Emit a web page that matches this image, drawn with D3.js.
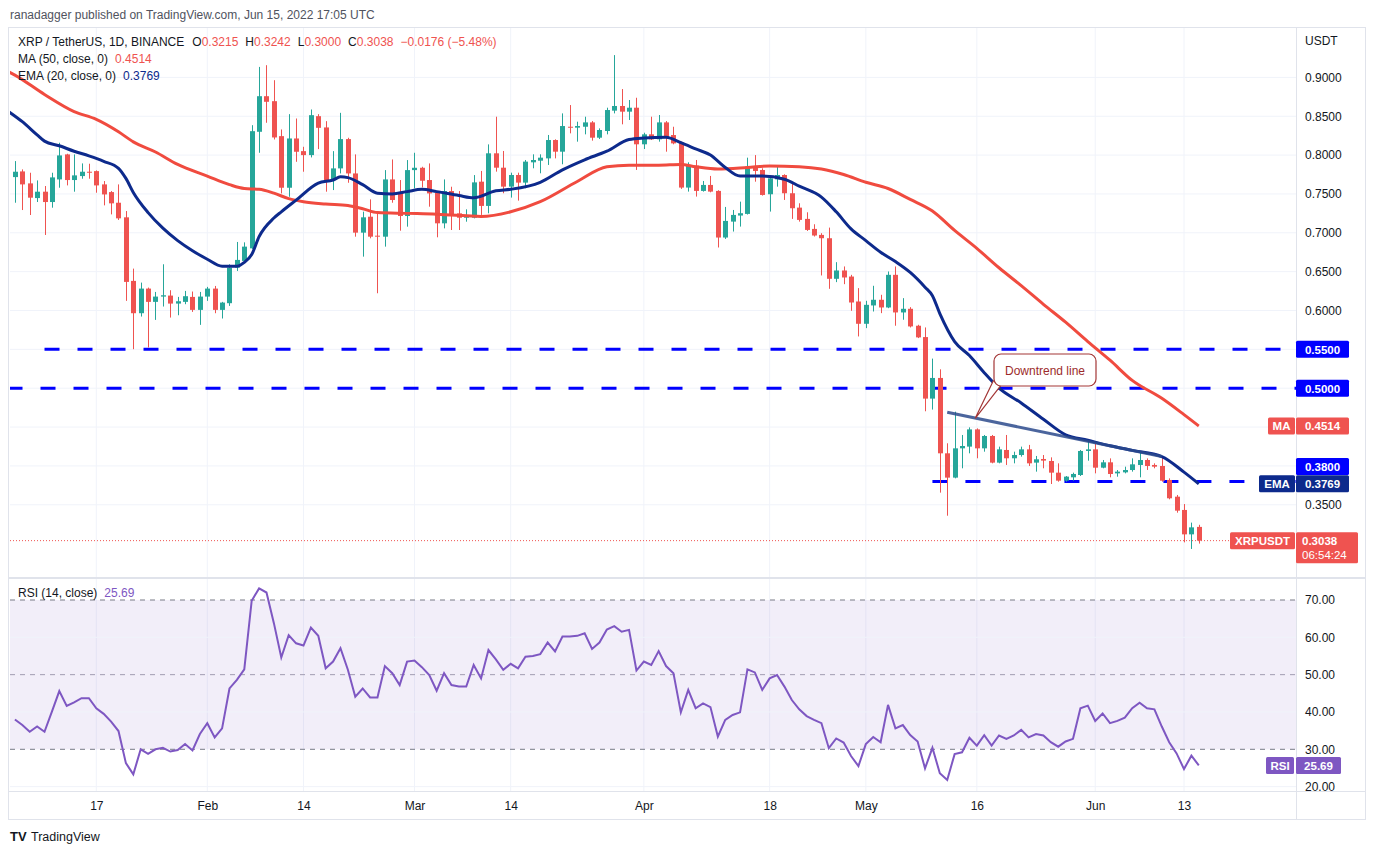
<!DOCTYPE html>
<html>
<head>
<meta charset="utf-8">
<script src="https://cdn.jsdelivr.net/npm/d3@7"></script>
<style>
body { margin: 0; background: #fff; }
svg text { font-family: "Liberation Sans", Arial, sans-serif; }
</style>
</head>
<body>
<div id="chart"></div>
<script>
// Daily candles, Jan 6 .. Jun 15 2022
var firstDay = "2022-01-06"
var lastDay = "2022-06-15"

var open = [.7717,.7790,.7636,.7447,.7529,.7396,.7687,.8009,.7679,.7730,.7786,
.7794,.7623,.7524,.7387,.7199,.6381,.5965,.6282,.6111,.6179,
.6192,.6089,.6111,.6175,.6008,.6179,.6282,.6008,.6094,.6552,
.6638,.6800,.8300,.8758,.8694,.8244,.7580,.8214,.8051,.8000,
.8501,.8356,.7679,.7829,.8206,.7764,.7002,.7207,.6963,.6950,
.7687,.7507,.7216,.7807,.7837,.7679,.7516,.7122,.7537,.7250,
.7194,.7194,.7658,.7346,.8023,.7838,.7594,.7744,.7646,.7907,
.7928,.7958,.8194,.8044,.8365,.8353,.8365,.8421,.8224,.8310,
.8572,.8632,.8559,.8610,.8139,.8267,.8203,.8421,.8258,.8160,
.7582,.7865,.7539,.7616,.7539,.6939,.7144,.7222,.7243,.7851,
.7808,.7496,.7688,.7744,.7509,.7324,.7179,.7050,.6973,.6930,
.6408,.6515,.6437,.6116,.5829,.6065,.6138,.6039,.6459,.5975,
.6022,.5804,.5658,.4866,.5132,.4162,.3849,.4226,.4248,.4470,
.4226,.4385,.4042,.4205,.4098,.4140,.4213,.4042,.4089,.4063,
.3913,.3810,.3853,.3883,.4192,.4213,.3977,.4046,.3904,.3917,
.3947,.4012,.4076,.4012,.3999,.3819,.3604,.3433,.3119,.3215]

var high = [.7923,.7816,.7773,.7674,.7602,.7773,.8159,.8017,.8009,.7893,.7889,
.7803,.7666,.7537,.7623,.7280,.6539,.6359,.6295,.6239,.6595,
.6261,.6175,.6252,.6244,.6239,.6304,.6316,.6111,.6595,.6882,
.6877,.8385,.9135,.9157,.8964,.8330,.8527,.8471,.8107,.8587,
.8527,.8437,.8051,.8544,.8223,.8009,.7272,.7430,.7250,.7807,
.7944,.7679,.7936,.8030,.7850,.7893,.7529,.7687,.7593,.7537,
.7302,.7743,.7796,.8138,.8494,.8053,.7774,.7774,.7937,.8010,
.8010,.8259,.8203,.8537,.8644,.8430,.8494,.8438,.8344,.8610,
.9287,.8850,.8709,.8738,.8288,.8494,.8516,.8438,.8365,.8173,
.7907,.7937,.7667,.7732,.7548,.7333,.7294,.7401,.7967,.8000,
.7830,.7722,.7864,.7753,.7637,.7380,.7264,.7110,.6995,.7067,
.6622,.6567,.6459,.6288,.6125,.6318,.6202,.6502,.6567,.6159,
.6043,.5816,.5782,.5381,.5243,.4291,.4698,.4398,.4496,.4483,
.4398,.4398,.4248,.4398,.4183,.4248,.4270,.4128,.4140,.4110,
.4033,.3870,.3913,.4205,.4346,.4290,.4076,.4097,.3947,.3990,
.4097,.4183,.4097,.4033,.4119,.3840,.3626,.3509,.3270,.3242]

var low = [.7387,.7293,.7229,.7396,.6972,.7323,.7580,.7610,.7529,.7696,.7696,
.7516,.7353,.7237,.7165,.6124,.5502,.5922,.5524,.5879,.6051,
.5909,.5939,.6081,.5982,.5815,.6124,.5965,.5897,.6059,.6509,
.6629,.6792,.8030,.8416,.8201,.7507,.7464,.7914,.7786,.7970,
.8077,.7529,.7550,.7764,.7644,.6950,.6693,.6929,.6222,.6822,
.7387,.7027,.7079,.7572,.7584,.7336,.6942,.7057,.7036,.7036,
.7143,.7186,.7230,.7251,.7787,.7509,.7453,.7414,.7573,.7830,
.7766,.7873,.7958,.7882,.8280,.8173,.8267,.8186,.8207,.8267,
.8537,.8396,.8452,.7809,.8078,.8194,.8173,.8044,.8139,.7565,
.7530,.7466,.7530,.7521,.6811,.6921,.7016,.7080,.7235,.7658,
.7479,.7273,.7594,.7423,.7179,.7144,.7024,.6952,.6451,.6279,
.6365,.6339,.5996,.5666,.5773,.5987,.5966,.6030,.5804,.5881,
.5782,.5645,.4703,.4725,.3656,.3359,.3840,.3969,.4162,.4098,
.4183,.4033,.4033,.4012,.4033,.4119,.3999,.3926,.3969,.3767,
.3797,.3797,.3810,.3870,.4067,.3904,.3969,.3853,.3861,.3904,
.3926,.3853,.3948,.3969,.3797,.3570,.3398,.3016,.2931,.3000]

var close = [.7786,.7623,.7452,.7529,.7396,.7713,.7996,.7679,.7739,.7786,.7773,
.7610,.7494,.7379,.7186,.6368,.5965,.6282,.6111,.6179,.6196,
.6089,.6119,.6184,.6008,.6179,.6282,.6008,.6102,.6552,.6651,
.6822,.8308,.8758,.8686,.8227,.7580,.8214,.8043,.8000,.8514,
.8351,.7679,.7829,.8206,.7764,.7002,.7199,.6950,.6950,.7687,
.7422,.7216,.7807,.7837,.7670,.7507,.7122,.7537,.7220,.7194,
.7216,.7649,.7346,.8023,.7838,.7594,.7744,.7646,.7916,.7937,
.7967,.8194,.8044,.8374,.8353,.8374,.8421,.8224,.8323,.8580,
.8632,.8559,.8610,.8139,.8267,.8203,.8421,.8237,.8151,.7582,
.7865,.7539,.7616,.7530,.6939,.7153,.7230,.7252,.7851,.7796,
.7487,.7701,.7744,.7509,.7316,.7166,.7037,.6965,.6930,.6408,
.6515,.6425,.6103,.5829,.6073,.6138,.6039,.6459,.5975,.6022,
.5795,.5654,.4866,.5132,.4162,.3849,.4226,.4256,.4470,.4226,
.4385,.4042,.4213,.4098,.4140,.4213,.4033,.4085,.4068,.3913,
.3810,.3862,.3896,.4192,.4213,.3977,.4046,.3896,.3926,.3947,
.4020,.4076,.3999,.3990,.3810,.3583,.3424,.3119,.3209,.3038]

// RSI (14, close), one value per candle
var rsi = [38.0,36.5,34.7,36.1,34.7,40.1,45.6,41.6,42.6,43.7,43.7,
41.0,39.5,37.4,34.9,26.3,23.3,30.0,28.8,30.0,30.4,
29.4,29.8,31.4,29.7,34.1,37.0,33.2,35.6,46.3,48.6,
51.4,69.8,73.1,72.0,63.8,54.6,60.6,58.4,57.8,62.6,
60.4,51.7,53.5,57.1,51.3,44.1,46.3,43.9,43.9,52.3,
50.4,47.2,53.5,53.8,52.0,49.9,45.7,50.4,47.2,46.8,
46.8,52.6,49.0,56.6,54.1,51.3,52.9,51.7,54.8,55.0,
55.5,58.6,56.2,60.2,60.2,60.4,61.1,56.9,58.6,62.1,
63.0,61.5,62.0,51.1,53.5,52.6,56.3,52.3,50.4,39.9,
45.9,41.0,42.3,41.3,33.4,37.9,39.2,39.9,51.4,50.6,
45.9,49.0,49.9,46.8,43.2,40.7,38.9,37.9,37.0,30.3,
32.9,31.8,28.2,25.5,31.4,33.3,31.9,41.9,35.6,36.5,
33.8,32.1,24.9,30.4,23.6,21.8,28.7,29.2,33.1,31.0,
33.8,31.0,33.7,32.8,33.7,35.2,33.2,34.1,33.7,31.9,
30.7,32.1,32.8,41.0,41.7,37.6,39.6,37.0,37.6,38.5,
41.0,42.5,41.0,40.7,36.1,31.9,28.9,24.7,28.3,25.69]

// MA 50 and EMA 20
var ma50 = [["2022-01-05",0.908],["2022-01-06",0.903],["2022-01-10",0.878],["2022-01-14",0.856],["2022-01-17",0.846],
["2022-01-20",0.830],["2022-01-22",0.817],["2022-01-25",0.804],["2022-01-28",0.788],["2022-02-01",0.773],
["2022-02-04",0.762],["2022-02-06",0.757],["2022-02-08",0.756],["2022-02-10",0.751],["2022-02-12",0.744],
["2022-02-14",0.740],["2022-02-17",0.737],["2022-02-20",0.735],["2022-02-22",0.731],["2022-02-24",0.726],
["2022-02-28",0.725],["2022-03-04",0.724],["2022-03-08",0.722],["2022-03-10",0.721],["2022-03-14",0.727],
["2022-03-18",0.740],["2022-03-23",0.766],["2022-03-27",0.785],["2022-03-30",0.787],["2022-04-03",0.787],
["2022-04-06",0.788],["2022-04-08",0.785],["2022-04-11",0.782],["2022-04-15",0.784],["2022-04-18",0.786],
["2022-04-22",0.785],["2022-04-25",0.782],["2022-04-28",0.775],["2022-05-01",0.765],["2022-05-04",0.757],
["2022-05-07",0.743],["2022-05-10",0.728],["2022-05-13",0.703],["2022-05-16",0.680],["2022-05-19",0.655],
["2022-05-22",0.632],["2022-05-25",0.608],["2022-05-28",0.585],["2022-05-31",0.560],["2022-06-03",0.536],
["2022-06-06",0.510],["2022-06-10",0.487],["2022-06-13",0.466],["2022-06-15",0.4514]]

var ema20 = [["2022-01-05",0.857],["2022-01-07",0.843],["2022-01-09",0.826],["2022-01-10",0.818],["2022-01-12",0.812],
["2022-01-14",0.805],["2022-01-16",0.799],["2022-01-18",0.792],["2022-01-20",0.783],["2022-01-21",0.770],
["2022-01-22",0.752],["2022-01-24",0.726],["2022-01-26",0.706],["2022-01-28",0.690],["2022-01-30",0.677],
["2022-02-01",0.666],["2022-02-03",0.657],["2022-02-05",0.657],["2022-02-06",0.662],["2022-02-07",0.672],
["2022-02-08",0.695],["2022-02-10",0.719],["2022-02-11",0.727],["2022-02-13",0.742],["2022-02-16",0.764],
["2022-02-18",0.768],["2022-02-19",0.772],["2022-02-20",0.771],["2022-02-22",0.762],["2022-02-24",0.751],
["2022-02-26",0.750],["2022-02-28",0.753],["2022-03-02",0.756],["2022-03-04",0.753],["2022-03-07",0.748],
["2022-03-09",0.745],["2022-03-12",0.754],["2022-03-14",0.756],["2022-03-18",0.765],["2022-03-21",0.781],
["2022-03-24",0.794],["2022-03-27",0.805],["2022-03-30",0.820],["2022-04-01",0.822],["2022-04-04",0.823],
["2022-04-06",0.816],["2022-04-08",0.808],["2022-04-10",0.800],["2022-04-12",0.784],["2022-04-14",0.773],
["2022-04-17",0.773],["2022-04-20",0.769],["2022-04-22",0.760],["2022-04-25",0.746],["2022-04-27",0.727],
["2022-04-29",0.705],["2022-05-01",0.690],["2022-05-03",0.675],["2022-05-05",0.663],["2022-05-07",0.649],
["2022-05-09",0.630],["2022-05-10",0.619],["2022-05-11",0.596],["2022-05-13",0.560],["2022-05-15",0.542],
["2022-05-17",0.520],["2022-05-19",0.500],["2022-05-22",0.481],["2022-05-25",0.460],["2022-05-28",0.440],
["2022-05-31",0.433],["2022-06-03",0.426],["2022-06-06",0.420],["2022-06-10",0.412],["2022-06-13",0.392],
["2022-06-15",0.3769]]

// horizontal levels (value, first day drawn) and trend line
var levels = [[0.55,"2022-01-10"],[0.50,"2022-01-05"],[0.38,"2022-05-10"]]
var trendLine = [["2022-05-12",0.469],["2022-06-10",0.412]]

var priceTicks = [0.35,0.40,0.45,0.50,0.55,0.60,0.65,0.70,0.75,0.80,0.85,0.90]
var rsiTicks = [20,30,40,50,60,70]
var dateTicks = ["2022-01-17","2022-02-01","2022-02-14","2022-03-01","2022-03-14","2022-04-01",
"2022-04-18","2022-05-01","2022-05-16","2022-06-01","2022-06-13"]

var green = "#26a69a", red = "#ef5350", blue = "#0000ff", navy = "#0d2a8c", purple = "#7e57c2"
var textCol = "#131722", gridCol = "#f0f3fa", lineCol = "#e0e3eb"

var parse = d3.utcParse("%Y-%m-%d")
var days = d3.utcDay.range(parse(firstDay), d3.utcDay.offset(parse(lastDay), 1))
var candles = days.map(function(d, i){
  return {date: d, o: open[i], h: high[i], l: low[i], c: close[i], r: rsi[i]}
})

// layout
var left = 10, right = 1296
var priceTop = 28, priceBottom = 577
var rsiTop = 579, rsiBottom = 791

var x = d3.scaleUtc().domain([parse("2022-01-17"), parse("2022-06-13")]).range([96.3, 1184])
var y = d3.scaleLinear().domain([0.5, 0.9]).range([388.2, 77.4])
var yR = d3.scaleLinear().domain([30, 70]).range([749.3, 600])

var svg = d3.select("#chart").append("svg")
  .attr("width", 1373)
  .attr("height", 855)

var defs = svg.append("defs")
defs.append("clipPath").attr("id", "clipPrice").append("rect")
  .attr("x", left).attr("y", priceTop).attr("width", right - left).attr("height", priceBottom - priceTop)
defs.append("clipPath").attr("id", "clipRsi").append("rect")
  .attr("x", left).attr("y", rsiTop).attr("width", right - left).attr("height", rsiBottom - rsiTop)

// header
svg.append("text")
  .attr("x", 10).attr("y", 19)
  .attr("font-size", 12)
  .attr("fill", "#50535e")
  .text("ranadagger published on TradingView.com, Jun 15, 2022 17:05 UTC")

// frame
svg.append("rect")
  .attr("x", 8.5).attr("y", 27.5).attr("width", 1357).attr("height", 792)
  .attr("fill", "none").attr("stroke", lineCol)

// vertical grid
svg.append("g").selectAll("line")
  .data(dateTicks)
  .join("line")
  .attr("x1", function(d){ return x(parse(d)) })
  .attr("x2", function(d){ return x(parse(d)) })
  .attr("y1", priceTop).attr("y2", rsiBottom)
  .attr("stroke", gridCol)

// horizontal price grid
svg.append("g").selectAll("line")
  .data(priceTicks)
  .join("line")
  .attr("x1", left).attr("x2", right)
  .attr("y1", function(d){ return y(d) }).attr("y2", function(d){ return y(d) })
  .attr("stroke", gridCol)

//Price pane
var pricePane = svg.append("g").attr("clip-path", "url(#clipPrice)")

// current price dotted line
pricePane.append("line")
  .attr("x1", left).attr("x2", right)
  .attr("y1", y(close[close.length - 1])).attr("y2", y(close[close.length - 1]))
  .attr("stroke", red).attr("stroke-width", 1).attr("stroke-dasharray", "1,2")

// dashed levels
pricePane.append("g").selectAll("line")
  .data(levels)
  .join("line")
  .attr("x1", function(d){ return x(parse(d[1])) })
  .attr("x2", right)
  .attr("y1", function(d){ return y(d[0]) }).attr("y2", function(d){ return y(d[0]) })
  .attr("stroke", blue).attr("stroke-width", 3).attr("stroke-dasharray", "15,18")

// candles
var candle = pricePane.append("g").selectAll("g")
  .data(candles)
  .join("g")

candle.append("line")
  .attr("x1", function(d){ return Math.round(x(d.date)) + 0.5 })
  .attr("x2", function(d){ return Math.round(x(d.date)) + 0.5 })
  .attr("y1", function(d){ return y(d.h) })
  .attr("y2", function(d){ return y(d.l) })
  .attr("stroke", function(d){ return d.c >= d.o ? green : red })

candle.append("rect")
  .attr("x", function(d){ return Math.round(x(d.date)) - 2 })
  .attr("width", 5)
  .attr("y", function(d){ return y(Math.max(d.o, d.c)) })
  .attr("height", function(d){ return Math.max(1, Math.abs(y(d.o) - y(d.c))) })
  .attr("fill", function(d){ return d.c >= d.o ? green : red })

// moving averages
var avgLine = d3.line()
  .x(function(d){ return x(parse(d[0])) })
  .y(function(d){ return y(d[1]) })
  .curve(d3.curveMonotoneX)

pricePane.append("path")
  .datum(ma50)
  .attr("d", avgLine)
  .attr("fill", "none").attr("stroke", "#f04b3f").attr("stroke-width", 3)

pricePane.append("path")
  .datum(ema20)
  .attr("d", avgLine)
  .attr("fill", "none").attr("stroke", navy).attr("stroke-width", 3)

// downtrend line
pricePane.append("path")
  .datum(trendLine)
  .attr("d", d3.line().x(function(d){ return x(parse(d[0])) }).y(function(d){ return y(d[1]) }))
  .attr("fill", "none").attr("stroke", "#2b4a8c").attr("stroke-opacity", 0.85).attr("stroke-width", 3)

// callout
var tip = [x(parse(trendLine[0][0])) + 28, y(trendLine[0][1]) + 6]
svg.append("path")
  .attr("d", "M" + (tip[0] + 18) + "," + 381 + "L" + tip[0] + "," + tip[1] + "L" + (tip[0] + 29) + "," + 381 + "Z")
  .attr("fill", "#fff").attr("stroke", "#a33636").attr("stroke-width", 1.2)
svg.append("rect")
  .attr("x", 994).attr("y", 354).attr("width", 102).attr("height", 32).attr("rx", 7)
  .attr("fill", "#fff").attr("stroke", "#a33636").attr("stroke-width", 1.2)
svg.append("text")
  .attr("x", 1045).attr("y", 374.5)
  .attr("text-anchor", "middle")
  .attr("font-size", 12)
  .attr("fill", "#9c2b2b")
  .text("Downtrend line")

// pane separators
svg.append("line").attr("x1", 9).attr("x2", 1365).attr("y1", 578).attr("y2", 578)
  .attr("stroke", lineCol).attr("stroke-width", 2)
svg.append("line").attr("x1", 9).attr("x2", 1365).attr("y1", rsiBottom + 0.5).attr("y2", rsiBottom + 0.5)
  .attr("stroke", lineCol)
svg.append("line").attr("x1", right + 0.5).attr("x2", right + 0.5).attr("y1", 28).attr("y2", 820)
  .attr("stroke", lineCol)

//RSI pane
var rsiPane = svg.append("g").attr("clip-path", "url(#clipRsi)")

rsiPane.append("rect")
  .attr("x", left).attr("width", right - left)
  .attr("y", yR(70)).attr("height", yR(30) - yR(70))
  .attr("fill", purple).attr("fill-opacity", 0.1)

rsiPane.append("g").selectAll("line")
  .data(rsiTicks)
  .join("line")
  .attr("x1", left).attr("x2", right)
  .attr("y1", function(d){ return yR(d) }).attr("y2", function(d){ return yR(d) })
  .attr("stroke", function(d){ return d == 50 ? "#a29db3" : (d == 30 || d == 70) ? "#787b86" : gridCol })
  .attr("stroke-dasharray", function(d){ return d % 20 == 10 ? "5,5" : null })

rsiPane.append("path")
  .datum(candles)
  .attr("d", d3.line().x(function(d){ return x(d.date) }).y(function(d){ return yR(d.r) }))
  .attr("fill", "none").attr("stroke", purple).attr("stroke-width", 2)

// axes
var priceAxis = svg.append("g")
  .attr("transform", "translate(" + right + ",0)")
  .call(d3.axisRight(y).tickValues(priceTicks).tickFormat(d3.format(".4f")).tickSize(0).tickPadding(9))
var rsiAxis = svg.append("g")
  .attr("transform", "translate(" + right + ",0)")
  .call(d3.axisRight(yR).tickValues(rsiTicks).tickFormat(d3.format(".2f")).tickSize(0).tickPadding(9))
var timeAxis = svg.append("g")
  .attr("transform", "translate(0," + rsiBottom + ")")
  .call(d3.axisBottom(x).tickValues(dateTicks.map(parse)).tickSize(0).tickPadding(10)
    .tickFormat(function(d){ return d.getUTCDate() == 1 ? d3.utcFormat("%b")(d) : d.getUTCDate() }))

;[priceAxis, rsiAxis, timeAxis].forEach(function(a){
  a.select(".domain").remove()
  a.selectAll("text")
    .attr("font-size", 12)
    .attr("fill", textCol)
    .style("font-family", '"Liberation Sans", Arial, sans-serif')
})

svg.append("text").attr("x", 1305).attr("y", 45).attr("font-size", 12).attr("fill", textCol).text("USDT")

// right axis tags
function tag(x0, yc, w, h, fill, txt){
  svg.append("rect").attr("x", x0).attr("y", yc - h / 2).attr("width", w).attr("height", h)
    .attr("rx", 1.5).attr("fill", fill)
  svg.append("text").attr("x", x0 + w / 2).attr("y", yc + 4.5)
    .attr("text-anchor", "middle")
    .attr("font-size", 11.5).attr("font-weight", "bold").attr("fill", "#fff").text(txt)
}

tag(right, y(0.55), 53, 17, blue, "0.5500")
tag(right, y(0.50), 53, 17, blue, "0.5000")
tag(1268, y(0.4514), 27, 17, red, "MA")
tag(right, y(0.4514), 53, 17, red, "0.4514")
tag(right, 466.5, 53, 17, blue, "0.3800")
tag(1259, y(0.3769), 36, 17, navy, "EMA")
tag(right, y(0.3769), 53, 17, navy, "0.3769")
tag(1230, y(0.3038), 65, 17, red, "XRPUSDT")
svg.append("rect").attr("x", right).attr("y", y(0.3038) - 8.5).attr("width", 62).attr("height", 31)
  .attr("rx", 1.5).attr("fill", red)
svg.append("text").attr("x", right + 6).attr("y", y(0.3038) + 4.5)
  .attr("font-size", 11.5).attr("font-weight", "bold").attr("fill", "#fff").text("0.3038")
svg.append("text").attr("x", right + 6).attr("y", y(0.3038) + 18)
  .attr("font-size", 11.5).attr("fill", "#fff").text("06:54:24")
tag(1266, yR(25.69), 28, 17, purple, "RSI")
tag(right, yR(25.69), 45, 17, purple, "25.69")

// legends
function legend(yy, parts){
  var t = svg.append("text").attr("x", 18).attr("y", yy).attr("font-size", 12)
  parts.forEach(function(p){
    t.append("tspan").attr("fill", p[1]).attr("dx", p[2] || 0).text(p[0])
  })
}
legend(46, [["XRP / TetherUS, 1D, BINANCE", textCol], ["O", textCol, 8], ["0.3215", red], ["H", textCol, 7], ["0.3242", red],
  ["L", textCol, 7], ["0.3000", red], ["C", textCol, 7], ["0.3038", red], ["\u22120.0176 (\u22125.48%)", red, 7]])
legend(63, [["MA (50, close, 0)", textCol], ["0.4514", red, 7]])
legend(80, [["EMA (20, close, 0)", textCol], ["0.3769", navy, 7]])
legend(597, [["RSI (14, close)", textCol], ["25.69", purple, 7]])

// footer logo
svg.append("text").attr("x", 10).attr("y", 841).attr("font-size", 13).attr("font-weight", "bold")
  .attr("fill", textCol).text("TV")
svg.append("text").attr("x", 31).attr("y", 841).attr("font-size", 12.5).attr("fill", textCol).text("TradingView")
</script>
</body>
</html>
